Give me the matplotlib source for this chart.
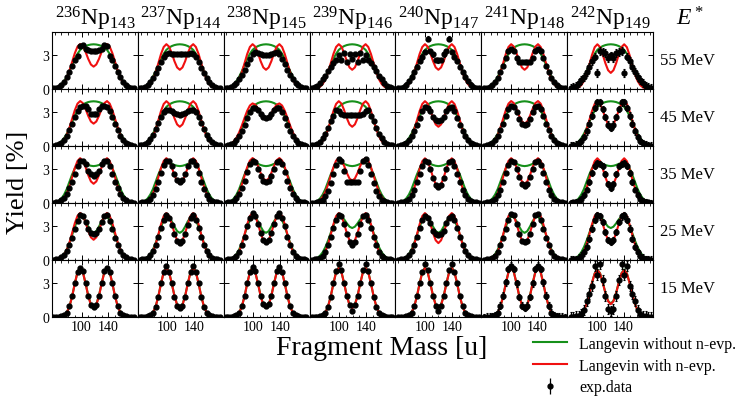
import numpy as np
import matplotlib.pyplot as plt
from matplotlib.lines import Line2D
from matplotlib.ticker import FixedLocator, MultipleLocator

plt.rcParams['font.family'] = ['Liberation Serif', 'DejaVu Serif']
plt.rcParams['mathtext.fontset'] = 'custom'
plt.rcParams['mathtext.rm'] = 'Liberation Serif'
plt.rcParams['mathtext.it'] = 'Liberation Serif:italic'

mass_numbers = [236, 237, 238, 239, 240, 241, 242]
neutron_numbers = [143, 144, 145, 146, 147, 148, 149]
energies = [55, 45, 35, 25, 15]

# distance from A/2 (the distributions are symmetric)
offsets = [0, 4, 8, 12, 16, 20, 24, 28, 32, 36, 40, 44, 48, 52, 56, 60]

# Langevin with n-evaporation (red), half profiles
red_shapes = {
    'A': [2.00, 2.19, 2.69, 3.32, 3.83, 4.02, 3.79, 3.20, 2.43, 1.64, 1.00, 0.54, 0.26, 0.11, 0.04, 0.02],
    'B': [1.72, 1.93, 2.49, 3.21, 3.79, 4.01, 3.76, 3.13, 2.30, 1.49, 0.86, 0.44, 0.20, 0.08, 0.03, 0.01],
    'C': [1.44, 1.68, 2.30, 3.09, 3.75, 4.00, 3.74, 3.04, 2.16, 1.34, 0.72, 0.34, 0.14, 0.05, 0.02, 0.00],
    'D': [2.43, 2.57, 2.92, 3.36, 3.70, 3.81, 3.62, 3.15, 2.51, 1.83, 1.22, 0.74, 0.41, 0.21, 0.10, 0.04],
    'E': [1.51, 1.76, 2.42, 3.24, 3.94, 4.20, 3.93, 3.19, 2.27, 1.41, 0.76, 0.36, 0.15, 0.05, 0.02, 0.00],
    'F': [1.81, 2.03, 2.61, 3.37, 3.98, 4.21, 3.95, 3.29, 2.42, 1.56, 0.90, 0.46, 0.21, 0.08, 0.03, 0.01],
    'G': [0.79, 1.07, 1.88, 3.00, 4.00, 4.40, 4.00, 2.99, 1.84, 0.94, 0.39, 0.14, 0.04, 0.01, 0.00, 0.00],
    'H': [1.15, 1.41, 2.14, 3.08, 3.89, 4.20, 3.88, 3.06, 2.05, 1.18, 0.58, 0.24, 0.08, 0.03, 0.01, 0.00],
}
# Langevin without n-evaporation (green)
green_shapes = {
    'g1': [4.00, 3.98, 3.93, 3.84, 3.70, 3.50, 3.15, 2.70, 2.15, 1.60, 1.10, 0.70, 0.40, 0.20, 0.09, 0.03],
    'g2': [3.30, 3.33, 3.40, 3.50, 3.57, 3.58, 3.45, 3.10, 2.55, 1.90, 1.25, 0.75, 0.40, 0.19, 0.08, 0.03],
    'g3': [2.43, 2.58, 2.99, 3.47, 3.82, 3.87, 3.56, 2.97, 2.24, 1.53, 0.94, 0.52, 0.26, 0.12, 0.05, 0.02],
    'g4': [2.86, 2.98, 3.28, 3.64, 3.89, 3.90, 3.62, 3.09, 2.42, 1.74, 1.15, 0.69, 0.38, 0.19, 0.09, 0.04],
    'g5': [0.85, 1.12, 1.92, 3.02, 4.02, 4.45, 4.02, 3.00, 1.85, 0.95, 0.40, 0.15, 0.05, 0.01, 0.00, 0.00],
    'g6': [1.20, 1.45, 2.17, 3.10, 3.92, 4.25, 3.90, 3.07, 2.06, 1.19, 0.59, 0.25, 0.09, 0.03, 0.01, 0.00],
}

red_pick = [
    ['A', 'B', 'B', 'B', 'B', 'B', 'C'],
    ['A', 'B', 'D', 'B', 'B', 'A', 'B'],
    ['B', 'B', 'A', 'A', 'C', 'B', 'C'],
    ['F', 'E', 'E', 'E', 'E', 'E', 'E'],
    ['G', 'G', 'G', 'G', 'G', 'G', 'H'],
]
green_pick = [
    ['g1'] * 7,
    ['g1'] * 7,
    ['g2'] * 7,
    ['g3', 'g3', 'g3', 'g4', 'g3', 'g3', 'g4'],
    ['g5'] * 6 + ['g6'],
]

# experimental yields [%], same offsets, one list per panel
exp_yield = [
    [[3.40, 3.40, 3.45, 3.55, 3.90, 3.85, 2.95, 2.55, 2.10, 1.55, 1.05, 0.65, 0.38, 0.20, 0.10, 0.05],
     [3.10, 3.10, 3.10, 3.15, 3.20, 3.15, 2.85, 2.40, 1.90, 1.40, 0.95, 0.60, 0.36, 0.20, 0.10, 0.05],
     [3.05, 3.05, 3.10, 3.25, 3.30, 3.10, 2.70, 2.20, 1.70, 1.25, 0.85, 0.55, 0.35, 0.20, 0.10, 0.05],
     [2.70, 3.10, 2.45, 3.20, 2.60, 3.00, 2.60, 2.30, 2.00, 1.60, 1.20, 0.85, 0.55, 0.30, 0.15, 0.08],
     [2.55, 2.60, 3.10, 3.40, 4.50, 3.30, 2.90, 2.50, 2.00, 1.50, 1.10, 0.70, 0.40, 0.20, 0.10, 0.05],
     [2.40, 2.40, 2.45, 2.80, 3.40, 3.60, 3.40, 2.80, 2.10, 1.50, 1.00, 0.65, 0.40, 0.20, 0.12, 0.06],
     [3.00, 2.80, 3.20, 3.30, 3.40, 1.40, 2.90, 2.50, 2.00, 1.50, 1.10, 0.80, 0.50, 0.30, 0.15, 0.08]],
    [[2.90, 2.90, 3.30, 3.60, 3.60, 3.50, 3.10, 2.60, 2.00, 1.40, 0.90, 0.55, 0.30, 0.15, 0.08, 0.04],
     [2.80, 2.85, 2.95, 3.10, 3.25, 3.20, 3.00, 2.60, 2.10, 1.50, 1.00, 0.60, 0.35, 0.20, 0.10, 0.05],
     [2.50, 2.60, 2.90, 3.20, 3.40, 3.40, 3.00, 2.50, 1.90, 1.30, 0.85, 0.50, 0.30, 0.15, 0.08, 0.04],
     [2.75, 2.75, 2.75, 2.80, 2.90, 3.10, 3.20, 2.70, 2.20, 1.60, 1.10, 0.70, 0.40, 0.20, 0.10, 0.05],
     [2.20, 2.30, 2.60, 3.10, 3.40, 3.50, 3.10, 2.50, 1.90, 1.30, 0.85, 0.50, 0.30, 0.15, 0.08, 0.04],
     [1.90, 2.00, 2.40, 3.00, 3.50, 3.60, 3.30, 2.70, 2.00, 1.40, 0.90, 0.55, 0.30, 0.15, 0.08, 0.04],
     [1.60, 1.90, 2.60, 3.30, 3.90, 3.90, 3.40, 2.70, 2.00, 1.30, 0.80, 0.45, 0.25, 0.12, 0.06, 0.03]],
    [[2.45, 2.60, 2.90, 3.50, 3.80, 3.80, 3.30, 2.60, 1.90, 1.30, 0.80, 0.45, 0.25, 0.12, 0.06, 0.03],
     [1.90, 2.10, 2.60, 3.30, 3.80, 3.80, 3.40, 2.70, 1.90, 1.25, 0.75, 0.40, 0.20, 0.10, 0.05, 0.02],
     [1.90, 2.00, 2.40, 3.00, 3.70, 3.80, 3.50, 2.80, 2.00, 1.30, 0.80, 0.45, 0.22, 0.10, 0.05, 0.02],
     [1.85, 1.85, 1.90, 2.90, 3.80, 3.90, 3.40, 2.60, 1.80, 1.10, 0.60, 0.30, 0.15, 0.08, 0.04, 0.02],
     [1.40, 1.60, 2.20, 3.00, 3.70, 3.80, 3.30, 2.60, 1.90, 1.20, 0.70, 0.38, 0.20, 0.10, 0.05, 0.02],
     [1.50, 1.70, 2.30, 3.00, 3.70, 3.80, 3.40, 2.70, 1.90, 1.20, 0.70, 0.38, 0.20, 0.10, 0.05, 0.02],
     [1.30, 1.70, 2.60, 3.30, 3.50, 3.60, 3.30, 2.70, 1.90, 1.20, 0.70, 0.38, 0.20, 0.10, 0.05, 0.02]],
    [[2.30, 2.40, 2.80, 3.40, 3.90, 4.00, 3.50, 2.80, 2.00, 1.30, 0.80, 0.45, 0.25, 0.12, 0.06, 0.03],
     [1.50, 1.70, 2.30, 3.10, 3.80, 4.00, 3.60, 2.90, 2.10, 1.35, 0.80, 0.45, 0.22, 0.10, 0.05, 0.02],
     [1.60, 1.80, 2.40, 3.20, 3.90, 4.20, 3.80, 3.00, 2.10, 1.30, 0.75, 0.40, 0.20, 0.10, 0.05, 0.02],
     [1.30, 1.60, 2.30, 3.20, 3.90, 4.00, 3.60, 2.90, 2.10, 1.30, 0.75, 0.40, 0.20, 0.10, 0.05, 0.02],
     [2.20, 2.30, 2.60, 3.30, 3.80, 3.90, 3.60, 2.90, 2.10, 1.35, 0.80, 0.45, 0.22, 0.10, 0.05, 0.02],
     [1.60, 1.70, 2.30, 3.20, 4.00, 4.10, 3.60, 2.80, 2.00, 1.30, 0.75, 0.40, 0.20, 0.10, 0.05, 0.02],
     [1.60, 1.80, 2.50, 3.40, 3.90, 4.00, 3.60, 2.80, 1.90, 1.20, 0.70, 0.40, 0.20, 0.10, 0.05, 0.02]],
    [[0.85, 1.10, 1.90, 3.00, 4.10, 4.40, 4.00, 3.00, 1.90, 0.95, 0.40, 0.15, 0.06, 0.03, 0.02, 0.01],
     [0.80, 1.00, 1.80, 3.00, 4.00, 4.60, 4.00, 3.00, 1.80, 0.90, 0.40, 0.15, 0.06, 0.03, 0.02, 0.01],
     [0.95, 1.20, 1.90, 3.00, 4.10, 4.50, 4.00, 3.00, 1.90, 0.95, 0.40, 0.15, 0.06, 0.03, 0.02, 0.01],
     [0.55, 1.10, 1.90, 3.00, 4.20, 4.70, 4.10, 3.00, 1.80, 0.90, 0.40, 0.15, 0.06, 0.03, 0.02, 0.01],
     [0.50, 1.00, 1.90, 3.00, 4.20, 4.70, 4.00, 3.00, 1.90, 0.95, 0.40, 0.15, 0.06, 0.03, 0.02, 0.01],
     [0.80, 1.00, 1.80, 3.00, 4.30, 4.60, 4.30, 3.10, 1.90, 1.00, 0.40, 0.15, 0.06, 0.03, 0.02, 0.01],
     [0.55, 0.70, 1.90, 3.30, 4.70, 3.80, 4.60, 2.80, 2.10, 1.40, 0.60, 0.30, 0.10, 0.05, 0.02, 0.01]],
]
exp_err = [
    [0.15, 0.10, 0.10, 0.15, 0.20, 0.10, 0.35],
    [0.15, 0.10, 0.10, 0.10, 0.15, 0.15, 0.30],
    [0.10, 0.10, 0.10, 0.10, 0.10, 0.12, 0.25],
    [0.10, 0.10, 0.10, 0.10, 0.10, 0.15, 0.30],
    [0.10, 0.10, 0.10, 0.15, 0.15, 0.30, 0.45],
]

GREEN = '#16901a'
RED = '#f01010'


def mirror(center, vals):
    d = np.array(offsets, dtype=float)
    v = np.array(vals, dtype=float)
    x = np.concatenate([center - d[::-1], center + d[1:]])
    y = np.concatenate([v[::-1], v[1:]])
    return x, y


fig, axes = plt.subplots(5, 7, figsize=(7.56, 4.14), dpi=100, sharex=True, sharey=True)
fig.subplots_adjust(left=0.0688, right=0.8638, top=0.9203, bottom=0.2319,
                    wspace=0, hspace=0)

for i, en in enumerate(energies):
    for j, a in enumerate(mass_numbers):
        ax = axes[i, j]
        c = a / 2
        x, y = mirror(c, green_shapes[green_pick[i][j]])
        ax.plot(x, y, color=GREEN, lw=1.5, zorder=2)
        x, y = mirror(c, red_shapes[red_pick[i][j]])
        ax.plot(x, y, color=RED, lw=1.5, zorder=3)
        x, y = mirror(c, exp_yield[i][j])
        ax.errorbar(x, y, yerr=exp_err[i][j], fmt='o', color='k', ms=3.5,
                    elinewidth=0.9, capsize=1.0, capthick=0.8, zorder=4)

        ax.set_xlim(56, 184)
        ax.set_ylim(0, 5.1)
        ax.xaxis.set_major_locator(FixedLocator([100, 140]))
        ax.xaxis.set_minor_locator(MultipleLocator(10))
        ax.yaxis.set_major_locator(FixedLocator([0, 3]))
        ax.tick_params(which='both', direction='in', top=True, right=True,
                       labelsize=10, pad=2)
        ax.tick_params(which='major', length=3.5, width=0.7)
        ax.tick_params(which='minor', length=1.8, width=0.6)
        for s in ax.spines.values():
            s.set_linewidth(0.8)
        if i == 0:
            ax.set_title(r'$^{%d}$Np$_{%d}$' % (a, neutron_numbers[j]),
                         fontsize=17, pad=3)
        if j == 6:
            ax.text(1.40, 0.5, '%d MeV' % en, transform=ax.transAxes,
                    ha='center', va='center', fontsize=12)

fig.text(690 / 756, 1 - 19 / 414, r'$E^*$', ha='center', va='center', fontsize=17)
fig.text(18 / 756, 1 - 182 / 414, 'Yield [%]', rotation=90, ha='center',
         va='center', fontsize=19)
fig.text(382 / 756, 1 - 349 / 414, 'Fragment Mass [u]', ha='center',
         va='center', fontsize=20)

h_green = Line2D([], [], color=GREEN, lw=1.5)
h_red = Line2D([], [], color=RED, lw=1.5)
h_exp = axes[0, 0].errorbar([], [], yerr=[], fmt='o', color='k', ms=3.5,
                            elinewidth=0.9, capsize=1.5)
fig.legend([h_green, h_red, h_exp],
           ['Langevin without n-evp.', 'Langevin with n-evp.', 'exp.data'],
           loc='upper left', bbox_to_anchor=(533 / 756, 1 - 337 / 414),
           frameon=False, fontsize=11.5, handlelength=2.1, handletextpad=0.8,
           labelspacing=0.35, borderaxespad=0, borderpad=0)

fig.savefig('out.png', dpi=100)
